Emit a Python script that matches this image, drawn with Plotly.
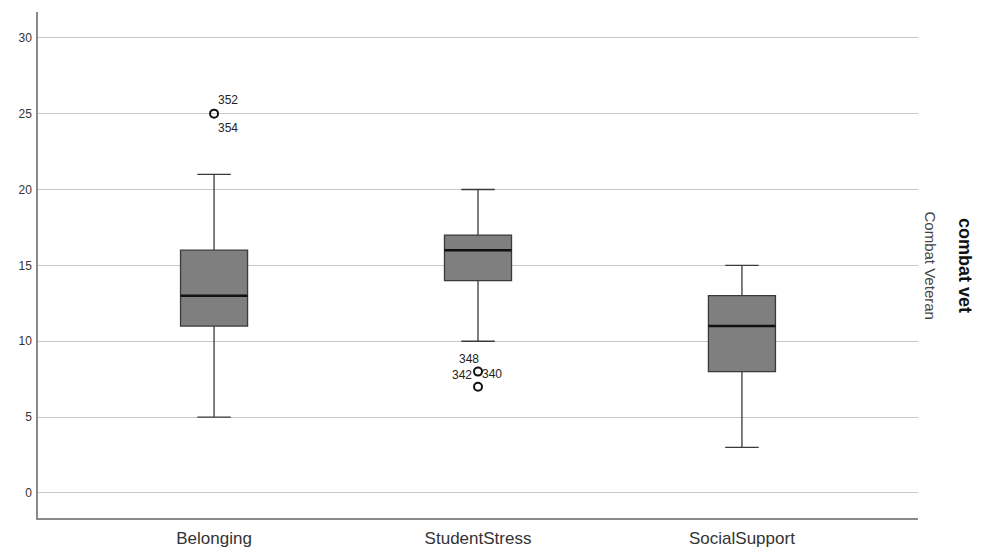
import plotly.graph_objects as go

categories = ["Belonging", "StudentStress", "SocialSupport"]
q1 = [11, 14, 8]
median = [13, 16, 11]
q3 = [16, 17, 13]
lower_whisker = [5, 10, 3]
upper_whisker = [21, 20, 15]

# outliers: (category index, value)
outlier_cat = [0, 1, 1]
outlier_val = [25, 8, 7]
# outlier case labels: (category index, value, label, xshift, yshift)
label_cat = [0, 0, 1, 1, 1]
label_val = [25, 25, 8, 8, 8]
label_text = ["352", "354", "348", "342", "340"]
label_dx = [14, 14, -9, -16, 14]
label_dy = [14, -14, 13, -3, -2]

y_ticks = [0, 5, 10, 15, 20, 25, 30]

BOX_W = 0.254
fig = go.Figure()
for i, c in enumerate(categories):
    fig.add_trace(go.Box(
        x=[i], q1=[q1[i]], median=[median[i]], q3=[q3[i]],
        lowerfence=[lower_whisker[i]], upperfence=[upper_whisker[i]],
        width=BOX_W, whiskerwidth=0.5,
        fillcolor="#7f7f7f", line=dict(color="#3a3a3a", width=1.3),
        boxpoints=False, showlegend=False, hoverinfo="skip",
    ))
    # thicker median line
    fig.add_trace(go.Scatter(
        x=[i - BOX_W / 2, i + BOX_W / 2], y=[median[i], median[i]],
        mode="lines", line=dict(color="#111111", width=2.5),
        showlegend=False, hoverinfo="skip",
    ))

fig.add_trace(go.Scatter(
    x=outlier_cat, y=outlier_val, mode="markers",
    marker=dict(symbol="circle-open", size=8, color="#111111", line=dict(width=2)),
    showlegend=False, hoverinfo="skip",
))

for c, v, t, dx, dy in zip(label_cat, label_val, label_text, label_dx, label_dy):
    fig.add_annotation(x=c, y=v, xref="x", yref="y", text=t, showarrow=False,
                       xshift=dx, yshift=dy,
                       font=dict(family="Arial, Liberation Sans", size=12, color="#222"))

fig.add_annotation(x=1.0, y=0.5, xref="paper", yref="paper", text="Combat Veteran",
                   textangle=90, showarrow=False, xshift=23, yshift=0,
                   font=dict(family="Arial, Liberation Sans", size=15, color="#444"))
fig.add_annotation(x=1.0, y=0.5, xref="paper", yref="paper", text="<b>combat vet</b>",
                   textangle=90, showarrow=False, xshift=59, yshift=0,
                   font=dict(family="Arial, Liberation Sans", size=18, color="#111"))

fig.update_layout(
    width=981, height=560,
    margin=dict(l=38, r=63, t=12, b=42),
    plot_bgcolor="white", paper_bgcolor="white",
    font=dict(family="Arial, Liberation Sans"),
)
fig.update_xaxes(
    range=[-0.667, 2.667], tickvals=[0, 1, 2], ticktext=categories,
    showgrid=False, zeroline=False, showline=True, linecolor="#8a8a8a", linewidth=1.5,
    ticks="", tickfont=dict(size=17, color="#333"), ticklabelstandoff=4,
)
fig.update_yaxes(
    range=[-1.65, 31.7], tickvals=y_ticks,
    showgrid=True, gridcolor="#c8c8c8", gridwidth=1, zeroline=False,
    showline=True, linecolor="#8a8a8a", linewidth=1.5,
    ticks="", tickfont=dict(size=12, color="#333"), ticklabelstandoff=2,
)

fig.write_html("out.html")
